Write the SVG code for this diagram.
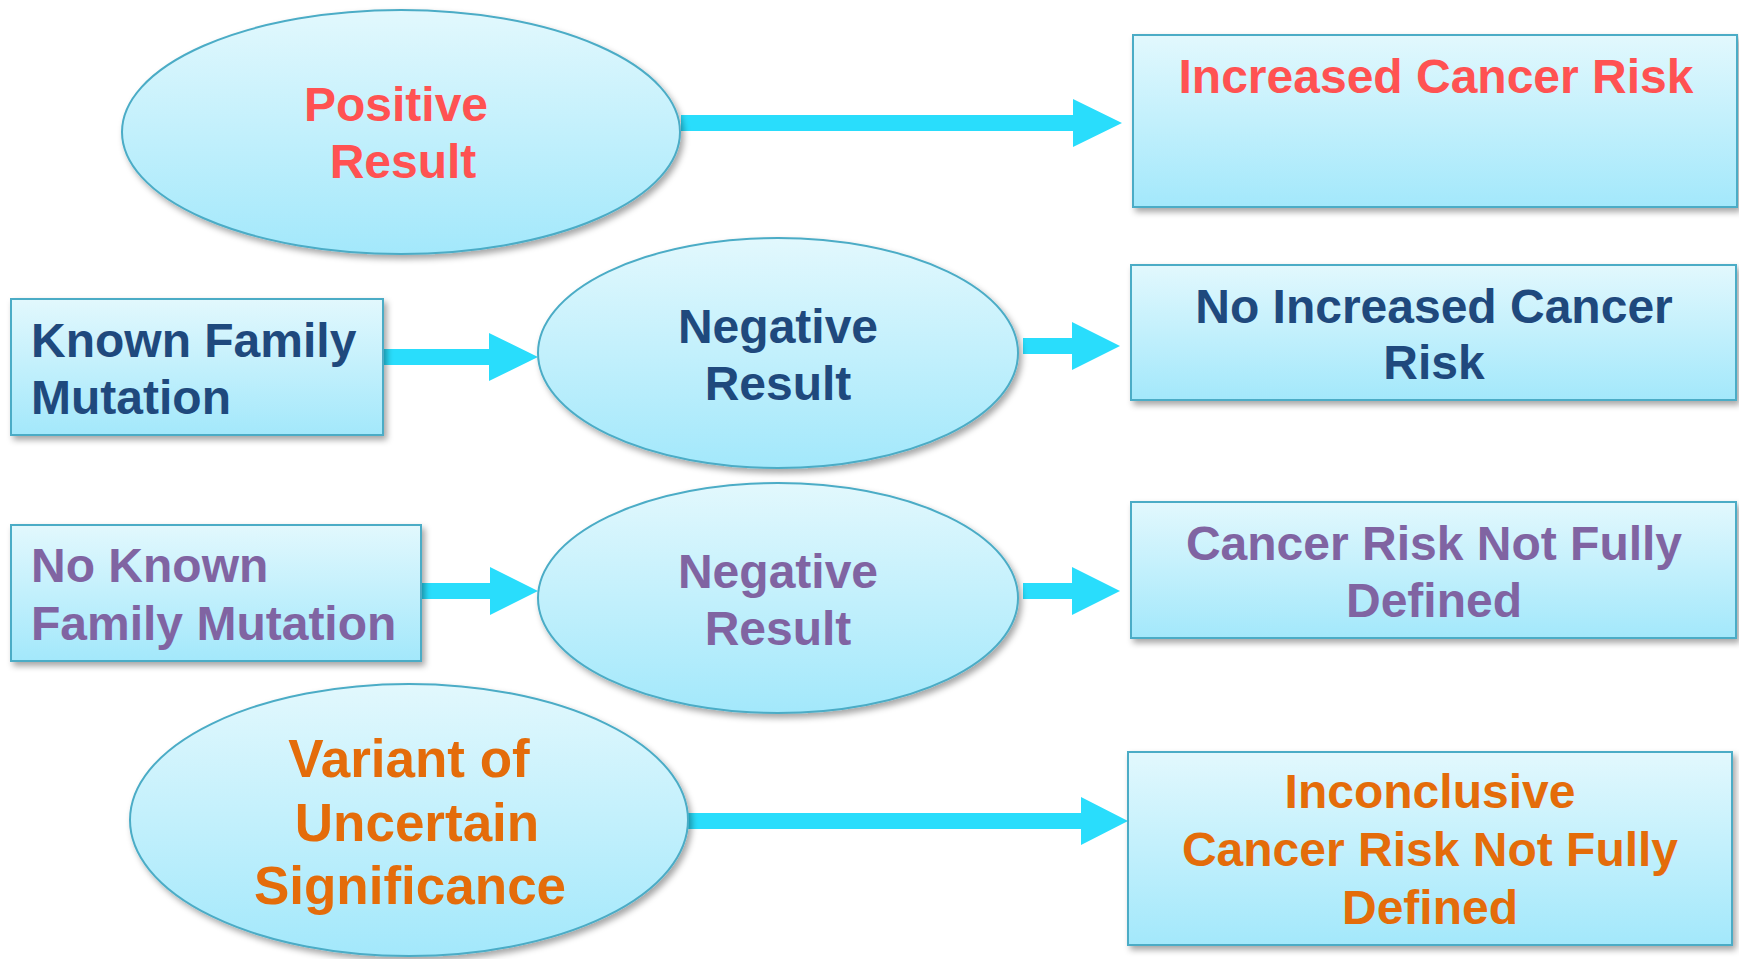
<svg xmlns="http://www.w3.org/2000/svg" width="1739" height="959" viewBox="0 0 1739 959">
<defs>
<linearGradient id="fillGrad" x1="0" y1="0" x2="0" y2="1">
<stop offset="0" stop-color="#E2F8FD"/>
<stop offset="1" stop-color="#A3E8FB"/>
</linearGradient>
<filter id="shadow" x="-10%" y="-10%" width="125%" height="130%">
<feDropShadow dx="3" dy="4" stdDeviation="3" flood-color="#000" flood-opacity="0.35"/>
</filter>
<style>
.shape{fill:url(#fillGrad);stroke:#4BACC6;stroke-width:2;filter:url(#shadow);}
.t{font-family:"Liberation Sans",Arial,sans-serif;font-weight:bold;font-size:48px;}
.big{font-size:53px;}
.mid{text-anchor:middle;}
.red{fill:#FF5252;}
.navy{fill:#1F497D;}
.purple{fill:#8064A2;}
.orange{fill:#E46C0A;}
.arrow{fill:#29DDFC;}
</style>
</defs>
<rect width="1739" height="959" fill="#FFFFFF"/>
<g id="connectors">
<polygon class="arrow" points="681,115 1073,115 1073,99 1122,123 1073,147 1073,131 681,131"/>
<polygon class="arrow" points="383,349 489,349 489,333 538,357 489,381 489,365 383,365"/>
<polygon class="arrow" points="1023,338 1072,338 1072,322 1120,346 1072,370 1072,354 1023,354"/>
<polygon class="arrow" points="421,583 490,583 490,567 538,591 490,615 490,599 421,599"/>
<polygon class="arrow" points="1023,583 1072,583 1072,567 1120,591 1072,615 1072,599 1023,599"/>
<polygon class="arrow" points="688,813 1081,813 1081,797 1128,821 1081,845 1081,829 688,829"/>
</g>
<g id="positive-result">
<ellipse class="shape" cx="401" cy="132" rx="279" ry="122"/>
<text class="t mid red" x="396" y="121">Positive</text>
<text class="t mid red" x="403" y="178">Result</text>
</g>
<g id="increased-risk">
<rect class="shape" x="1133" y="35" width="604" height="172"/>
<text class="t mid red" x="1436" y="93">Increased Cancer Risk</text>
</g>
<g id="known-family">
<rect class="shape" x="11" y="299" width="372" height="136"/>
<text class="t navy" x="31" y="357">Known Family</text>
<text class="t navy" x="31" y="414">Mutation</text>
</g>
<g id="negative-result-1">
<ellipse class="shape" cx="778" cy="353" rx="240" ry="115"/>
<text class="t mid navy" x="778" y="343">Negative</text>
<text class="t mid navy" x="778" y="400">Result</text>
</g>
<g id="no-increased-risk">
<rect class="shape" x="1131" y="265" width="605" height="135"/>
<text class="t mid navy" x="1434" y="323">No Increased Cancer</text>
<text class="t mid navy" x="1434" y="379">Risk</text>
</g>
<g id="no-known-family">
<rect class="shape" x="11" y="525" width="410" height="136"/>
<text class="t purple" x="31" y="582">No Known</text>
<text class="t purple" x="31" y="640">Family Mutation</text>
</g>
<g id="negative-result-2">
<ellipse class="shape" cx="778" cy="598" rx="240" ry="115"/>
<text class="t mid purple" x="778" y="588">Negative</text>
<text class="t mid purple" x="778" y="645">Result</text>
</g>
<g id="risk-not-defined">
<rect class="shape" x="1131" y="502" width="605" height="136"/>
<text class="t mid purple" x="1434" y="560">Cancer Risk Not Fully</text>
<text class="t mid purple" x="1434" y="617">Defined</text>
</g>
<g id="vus">
<ellipse class="shape" cx="409" cy="820" rx="279" ry="136"/>
<text class="t big mid orange" x="409" y="777">Variant of</text>
<text class="t big mid orange" x="417" y="841">Uncertain</text>
<text class="t big mid orange" x="410" y="904">Significance</text>
</g>
<g id="inconclusive">
<rect class="shape" x="1128" y="752" width="604" height="193"/>
<text class="t mid orange" x="1430" y="808">Inconclusive</text>
<text class="t mid orange" x="1430" y="866">Cancer Risk Not Fully</text>
<text class="t mid orange" x="1430" y="924">Defined</text>
</g>
</svg>
